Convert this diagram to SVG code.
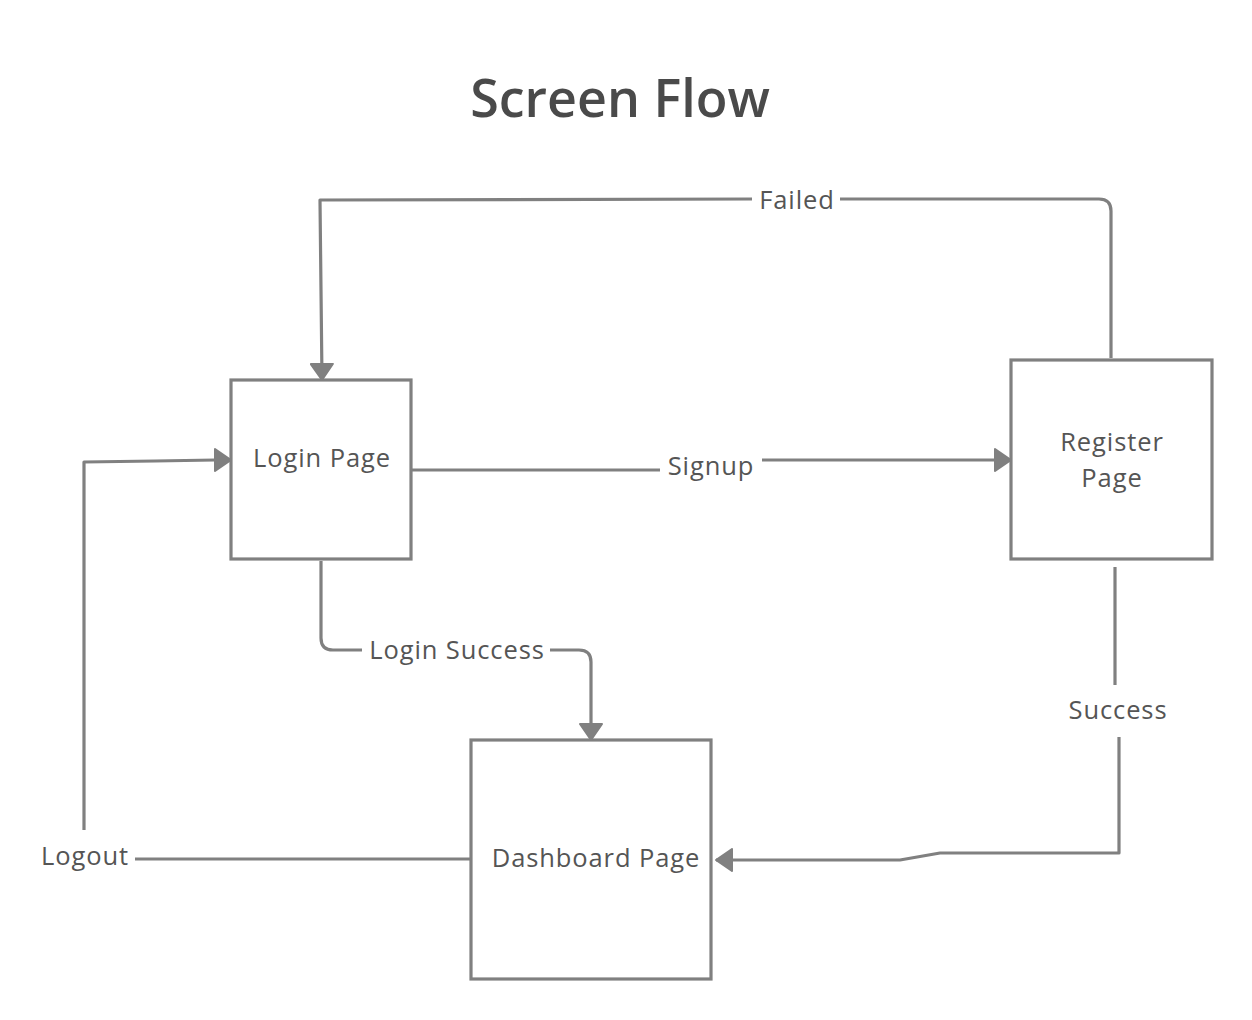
<svg xmlns="http://www.w3.org/2000/svg" width="1252" height="1020" viewBox="0 0 1252 1020">
<defs>
<style>
.box{fill:#fff;stroke:#808080;stroke-width:3.2}
.ln{fill:none;stroke:#808080;stroke-width:3.2;stroke-linejoin:round}
.t{font-family:"Open Sans","Noto Sans",sans-serif;font-size:25.5px;letter-spacing:0.9px;fill:#555;text-anchor:middle}
.title{font-family:"Open Sans","Noto Sans",sans-serif;font-size:52px;font-weight:600;fill:#4a4a4a;text-anchor:middle}
</style>
<marker id="a" viewBox="0 0 18 24" refX="17" refY="12" markerWidth="18" markerHeight="24" markerUnits="userSpaceOnUse" orient="auto">
<path d="M1,1 L17,12 L1,23 Z" fill="#808080" stroke="#808080" stroke-width="2" stroke-linejoin="round"/>
</marker>
</defs>
<rect width="1252" height="1020" fill="#fff"/>
<text class="title" x="620" y="117">Screen Flow</text>
<g id="connectors">
<path class="ln" d="M1111,358 L1111,211 Q1111,199 1099,199 L840,199"/>
<path class="ln" marker-end="url(#a)" d="M752,199 L320,200 L321,290 L322,380"/>
<text class="t" x="797" y="209">Failed</text>
<path class="ln" d="M412,470 L660,470"/>
<path class="ln" marker-end="url(#a)" d="M762,460 L1011,460"/>
<text class="t" x="711" y="475">Signup</text>
<path class="ln" d="M321,561 L321,638 Q321,650 333,650 L362,650"/>
<path class="ln" marker-end="url(#a)" d="M550,650 L579,650 Q591,650 591,662 L591,740"/>
<text class="t" x="457" y="659">Login Success</text>
<path class="ln" d="M1115,567 L1115,685"/>
<path class="ln" marker-end="url(#a)" d="M1119,737 L1119,853 L940,853 L900,860 L716,860"/>
<text class="t" x="1118" y="719">Success</text>
<path class="ln" d="M471,859 L135,859"/>
<path class="ln" marker-end="url(#a)" d="M84,830 L84,462 L155,461 L215,460 L231,460"/>
<text class="t" x="85" y="865">Logout</text>
</g>
<g id="login">
<rect class="box" x="231" y="380" width="180" height="179"/>
<text class="t" x="322" y="467">Login Page</text>
</g>
<g id="register">
<rect class="box" x="1011" y="360" width="201" height="199"/>
<text class="t" x="1112" y="451">Register</text>
<text class="t" x="1112" y="487">Page</text>
</g>
<g id="dashboard">
<rect class="box" x="471" y="740" width="240" height="239"/>
<text class="t" x="596" y="867">Dashboard Page</text>
</g>
</svg>
